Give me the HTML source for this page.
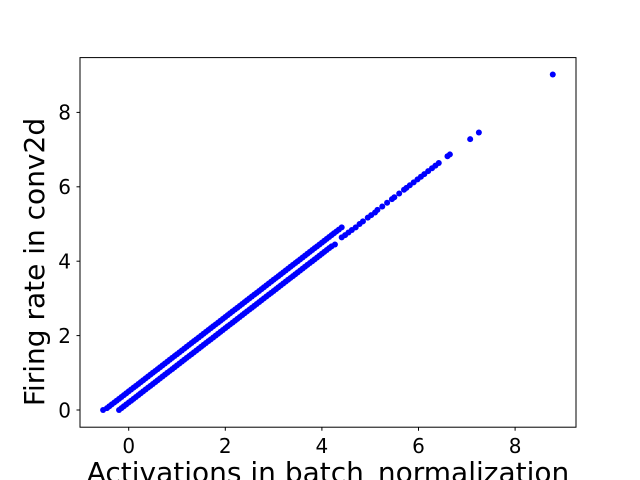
<!DOCTYPE html>
<html><head><meta charset="utf-8"><style>
html,body{margin:0;padding:0;background:#fff;}
svg{display:block;font-family:"DejaVu Sans","Liberation Sans",sans-serif;}
</style></head><body>
<svg id="chart" width="640" height="480" viewBox="0 0 640 480">
<rect x="0" y="0" width="640" height="480" fill="#fff"/>
<g id="points"></g>
<rect x="80" y="57.6" width="496" height="369.6" fill="none" stroke="#000" stroke-width="1"/>
<g id="xticks"></g>
<g id="yticks"></g>
<text x="328" y="482" font-size="28" text-anchor="middle">Activations in batch_normalization</text>
<text transform="translate(44,262) rotate(-90)" font-size="28" text-anchor="middle">Firing rate in conv2d</text>
</svg>
<script>
const upperX = [-0.53,-0.45,-0.4,-0.35,-0.3,-0.25,-0.2,-0.15,-0.1,-0.05,0,0.05,0.1,0.15,0.2,0.25,0.3,0.35,0.4,0.45,0.5,0.55,0.6,0.65,0.7,0.75,0.8,0.85,0.9,0.95,1,1.05,1.1,1.15,1.2,1.25,1.3,1.35,1.4,1.45,1.5,1.55,1.6,1.65,1.7,1.75,1.8,1.85,1.9,1.95,2,2.05,2.1,2.15,2.2,2.25,2.3,2.35,2.4,2.45,2.5,2.55,2.6,2.65,2.7,2.75,2.8,2.85,2.9,2.95,3,3.05,3.1,3.15,3.2,3.25,3.3,3.35,3.4,3.45,3.5,3.55,3.6,3.65,3.7,3.75,3.8,3.85,3.9,3.95,4,4.05,4.1,4.15,4.2,4.25,4.3,4.35,4.41];
const upperY = [0,0.05,0.1,0.15,0.2,0.25,0.3,0.35,0.4,0.45,0.5,0.55,0.6,0.65,0.7,0.75,0.8,0.85,0.9,0.95,1,1.05,1.1,1.15,1.2,1.25,1.3,1.35,1.4,1.45,1.5,1.55,1.6,1.65,1.7,1.75,1.8,1.85,1.9,1.95,2,2.05,2.1,2.15,2.2,2.25,2.3,2.35,2.4,2.45,2.5,2.55,2.6,2.65,2.7,2.75,2.8,2.85,2.9,2.95,3,3.05,3.1,3.15,3.2,3.25,3.3,3.35,3.4,3.45,3.5,3.55,3.6,3.65,3.7,3.75,3.8,3.85,3.9,3.95,4,4.05,4.1,4.15,4.2,4.25,4.3,4.35,4.4,4.45,4.5,4.55,4.6,4.65,4.7,4.75,4.8,4.85,4.91];
const lowerX = [-0.2,-0.15,-0.1,-0.05,0,0.05,0.1,0.15,0.2,0.25,0.3,0.35,0.4,0.45,0.5,0.55,0.6,0.65,0.7,0.75,0.8,0.85,0.9,0.95,1,1.05,1.1,1.15,1.2,1.25,1.3,1.35,1.4,1.45,1.5,1.55,1.6,1.65,1.7,1.75,1.8,1.85,1.9,1.95,2,2.05,2.1,2.15,2.2,2.25,2.3,2.35,2.4,2.45,2.5,2.55,2.6,2.65,2.7,2.75,2.8,2.85,2.9,2.95,3,3.05,3.1,3.15,3.2,3.25,3.3,3.35,3.4,3.45,3.5,3.55,3.6,3.65,3.7,3.75,3.8,3.85,3.9,3.95,4,4.05,4.1,4.15,4.2,4.27];
const lowerY = [0,0.05,0.1,0.15,0.2,0.25,0.3,0.35,0.4,0.45,0.5,0.55,0.6,0.65,0.7,0.75,0.8,0.85,0.9,0.95,1,1.05,1.1,1.15,1.2,1.25,1.3,1.35,1.4,1.45,1.5,1.55,1.6,1.65,1.7,1.75,1.8,1.85,1.9,1.95,2,2.05,2.1,2.15,2.2,2.25,2.3,2.35,2.4,2.45,2.5,2.55,2.6,2.65,2.7,2.75,2.8,2.85,2.9,2.95,3,3.05,3.1,3.15,3.2,3.25,3.3,3.35,3.4,3.45,3.5,3.55,3.6,3.65,3.7,3.75,3.8,3.85,3.9,3.95,4,4.05,4.1,4.15,4.2,4.25,4.3,4.35,4.4,4.45];
const sparseX = [4.41,4.48,4.55,4.62,4.7,4.78,4.85,4.95,5.02,5.1,5.15,5.25,5.35,5.45,5.5,5.6,5.7,5.75,5.82,5.9,5.98,6.05,6.12,6.2,6.28,6.35,6.42,6.6,6.65,7.07,7.25,8.78];
const sparseY = [4.64,4.7,4.77,4.84,4.91,5.0,5.07,5.17,5.24,5.31,5.38,5.47,5.57,5.67,5.72,5.82,5.92,5.97,6.04,6.12,6.2,6.27,6.34,6.42,6.5,6.57,6.64,6.82,6.87,7.28,7.46,9.02];
const xTicks = [0,2,4,6,8];
const yTicks = [0,2,4,6,8];

const NS = 'http://www.w3.org/2000/svg';
const xScale = v => 128.7 + v * 48.3;
const yScale = v => 410 - v * 37.2;

const pts = document.getElementById('points');
function plot(xs, ys, name) {
  for (let i = 0; i < xs.length; i++) {
    const c = document.createElementNS(NS, 'circle');
    c.setAttribute('cx', xScale(xs[i]));
    c.setAttribute('cy', yScale(ys[i]));
    c.setAttribute('r', 3);
    c.setAttribute('fill', '#0000ff');
    
    
    pts.appendChild(c);
  }
}
plot(upperX, upperY, 'upper-band-point');
plot(lowerX, lowerY, 'lower-band-point');
plot(sparseX, sparseY, 'outlier-point');

const xg = document.getElementById('xticks');
xTicks.forEach(t => {
  const x = xScale(t);
  const l = document.createElementNS(NS, 'line');
  l.setAttribute('x1', x); l.setAttribute('x2', x);
  l.setAttribute('y1', 427.2); l.setAttribute('y2', 430.7);
  l.setAttribute('stroke', '#000');
  
  
  xg.appendChild(l);
  const tx = document.createElementNS(NS, 'text');
  tx.setAttribute('x', x); tx.setAttribute('y', 453);
  tx.setAttribute('font-size', '20');
  tx.setAttribute('text-anchor', 'middle');
  tx.textContent = t;
  
  
  xg.appendChild(tx);
});
const yg = document.getElementById('yticks');
yTicks.forEach(t => {
  const y = yScale(t);
  const l = document.createElementNS(NS, 'line');
  l.setAttribute('x1', 76.5); l.setAttribute('x2', 80);
  l.setAttribute('y1', y); l.setAttribute('y2', y);
  l.setAttribute('stroke', '#000');
  
  
  yg.appendChild(l);
  const tx = document.createElementNS(NS, 'text');
  tx.setAttribute('x', 71); tx.setAttribute('y', y + 7.3);
  tx.setAttribute('font-size', '20');
  tx.setAttribute('text-anchor', 'end');
  tx.textContent = t;
  
  
  yg.appendChild(tx);
});
</script>
</body></html>
